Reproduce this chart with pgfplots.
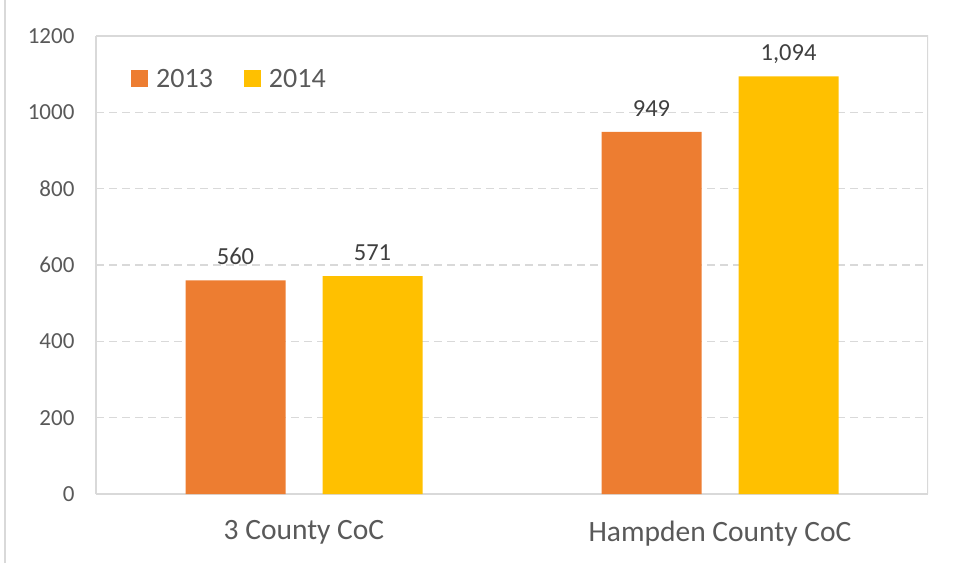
\documentclass[border=0pt]{standalone}
\usepackage{pgfplots}
\pgfplotsset{compat=1.18}
\usepackage{fontspec}
\setmainfont{Carlito}
\definecolor{cOrange}{HTML}{ED7D31}
\definecolor{cYellow}{HTML}{FFC000}
\definecolor{cGrid}{HTML}{D9D9D9}
\definecolor{cTick}{HTML}{595959}
\definecolor{cLabel}{HTML}{404040}
\begin{document}
\begin{tikzpicture}
\draw[cGrid, line width=1.5pt] (5pt,0pt) -- (5pt,563pt);
\begin{axis}[
  at={(96pt,69pt)}, anchor=south west,
  scale only axis, width=832pt, height=458pt,
  xmin=-0.5, xmax=1.5, ymin=0, ymax=1200,
  ytick={0,200,...,1200},
  xtick={0,1}, xticklabels={3 County CoC, Hampden County CoC},
  ybar, bar width=100pt,
  axis line style={cGrid, line width=1.5pt},
  axis x line*=bottom, axis y line*=left,
  major tick length=0pt,
  ymajorgrids, grid style={cGrid, line width=1.5pt, dash pattern=on 8pt off 5pt},
  /pgf/number format/assume math mode=true,
  yticklabel style={font=\fontsize{23}{27}\selectfont, text=cTick, xshift=-18pt, /pgf/number format/1000 sep={}},
  xticklabel style={font=\fontsize{29.5}{33}\selectfont, text=cTick, yshift=-23pt},
  nodes near coords,
  nodes near coords style={font=\fontsize{24.5}{28}\selectfont, text=cLabel, text depth=0pt, yshift=12pt, /pgf/number format/.cd, 1000 sep={,}, assume math mode=true},
  legend style={draw=none, fill=none, at={(32pt,415pt)}, anchor=west, font=\fontsize{28}{32}\selectfont, text=cTick, column sep=6pt, /tikz/every even column/.append style={column sep=29pt}},
  legend columns=2,
  legend image code/.code={\fill[#1] (0pt,-8.5pt) rectangle (17pt,8.5pt);},
]
\addplot[fill=cOrange, draw=none, bar shift=-68.5pt] coordinates {(0,560) (1,949)};
\addplot[fill=cYellow, draw=none, bar shift=68.5pt] coordinates {(0,571) (1,1094)};
\legend{2013,2014}
\draw[cGrid, line width=1.5pt] (rel axis cs:0,1) -- (rel axis cs:1,1) -- (rel axis cs:1,0);
\end{axis}
\pgfresetboundingbox
\path (0pt,0pt) rectangle (964pt,563pt);
\end{tikzpicture}
\end{document}
